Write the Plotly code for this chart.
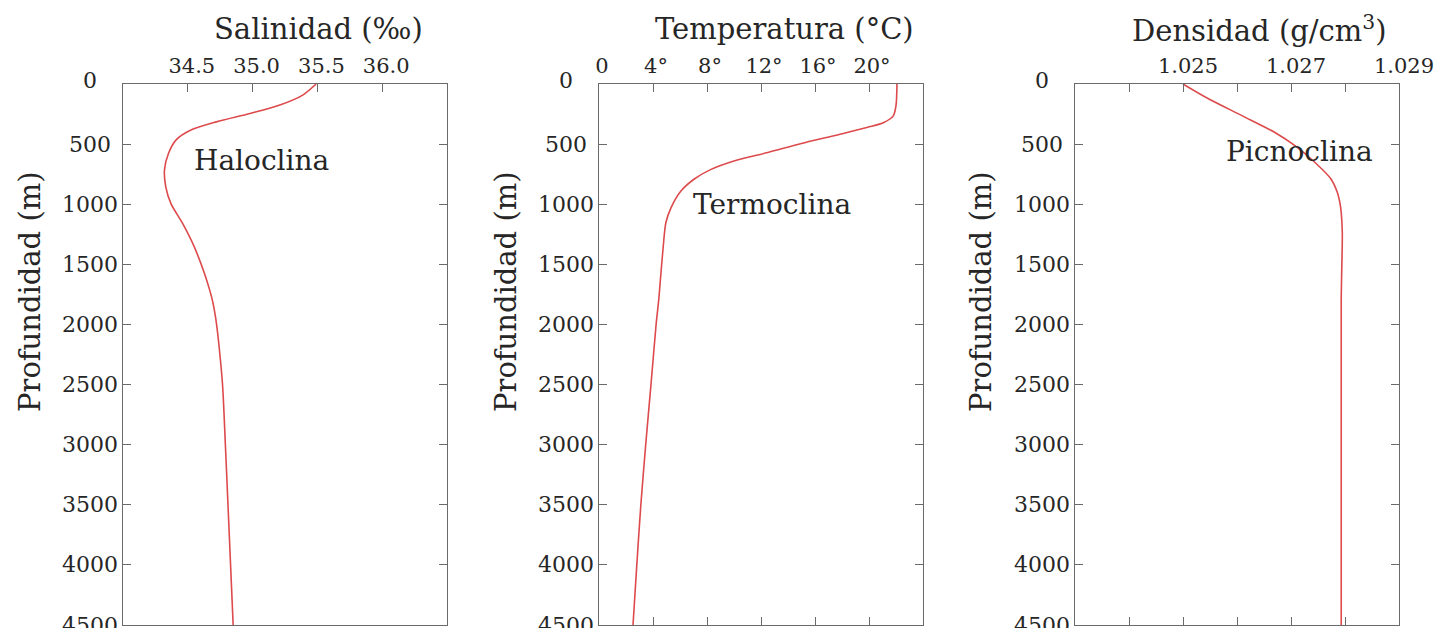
import plotly.graph_objects as go

# page body has an 8px margin: figure is sized to fit the 1444x636 viewport
OFF = 8
W, H = 1444 - 2 * OFF, 636 - 2 * OFF

# ---------------- data ----------------
sal_depth = [0, 90, 175, 245, 315, 385, 465, 580, 715, 855, 995, 1160, 1355, 1580, 1700, 1800, 1900, 2000, 2200, 2500, 3000, 3500, 4000, 4500]
salinity = [35.49, 35.39, 35.21, 34.98, 34.72, 34.52, 34.41, 34.35, 34.32, 34.33, 34.37, 34.46, 34.55, 34.63, 34.665, 34.69, 34.708, 34.722, 34.743, 34.768, 34.79, 34.81, 34.83, 34.85]

temp_depth = [0, 180, 265, 320, 360, 430, 495, 570, 640, 710, 790, 890, 1030, 1150, 1400, 1625, 1800, 2000, 2500, 3000, 3500, 4000, 4500]
temperature = [22.07, 22.0, 21.8, 21.1, 19.9, 17.4, 15.0, 12.5, 10.0, 8.3, 7.06, 6.07, 5.33, 4.96, 4.72, 4.55, 4.42, 4.23, 3.85, 3.46, 3.1, 2.8, 2.52]

dens_depth = [0, 125, 265, 405, 515, 655, 790, 905, 1000, 1070, 1235, 1800, 4500]
density = [1.0250, 1.02548, 1.02610, 1.02671, 1.02708, 1.02745, 1.02774, 1.02786, 1.02791, 1.02793, 1.02795, 1.02793, 1.02793]

depth_ticks = [0, 500, 1000, 1500, 2000, 2500, 3000, 3500, 4000, 4500]

sal_ticks = [34.5, 35.0, 35.5, 36.0]
sal_ticktext = ["34.5", "35.0", "35.5", "36.0"]
temp_ticks = [0, 4, 8, 12, 16, 20]
temp_ticktext = ["0", "4°", "8°", "12°", "16°", "20°"]
dens_ticks = [1.025, 1.027, 1.029]
dens_ticktext = ["1.025", "1.027", "1.029"]
dens_minor_ticks = [1.024, 1.026, 1.028]

titles = ["Salinidad (‰)", "Temperatura (°C)", "Densidad (g/cm<sup>3</sup>)"]
ytitle = "Profundidad (m)"
cline_labels = ["Haloclina", "Termoclina", "Picnoclina"]
cline_pos = [(35.07, 640), (12.8, 1000), (1.02715, 560)]

# ---------------- styling ----------------
FONT = "DejaVu Serif"
TXT = "#262626"
AX = "#6a6a6a"
RED = "#dd4a4c"


def px(x):
    return (x - OFF) / W


def py(y):
    return 1 - (y - OFF) / H


dom_px = [(123, 447), (599, 923), (1075, 1399)]
top_px, bot_px = 84, 625
ydom = [py(bot_px), py(top_px)]

fig = go.Figure()
series = [(salinity, sal_depth), (temperature, temp_depth), (density, dens_depth)]
for i, (xs, ds) in enumerate(series):
    fig.add_trace(go.Scatter(
        x=xs, y=ds, mode="lines",
        line=dict(color=RED, width=1.6, shape="spline", smoothing=0.8),
        xaxis="x" if i == 0 else f"x{i+1}",
        yaxis="y" if i == 0 else f"y{i+1}",
        showlegend=False, hoverinfo="skip",
    ))

xranges = [[34.0, 36.5], [0, 24], [1.023, 1.0290001]]
xtv = [sal_ticks, temp_ticks, dens_ticks]
xtt = [sal_ticktext, temp_ticktext, dens_ticktext]
xshift_lab = [4, 3, 5]
mirrors = [True, "ticks", "ticks"]

layout = dict(
    width=W, height=H, autosize=False, margin=dict(l=0, r=0, t=0, b=0, pad=0),
    paper_bgcolor="white", plot_bgcolor="white",
    font=dict(family=FONT, color=TXT, size=21),
)
annotations = []
for i in range(3):
    xa = "xaxis" if i == 0 else f"xaxis{i+1}"
    ya = "yaxis" if i == 0 else f"yaxis{i+1}"
    xr = "x" if i == 0 else f"x{i+1}"
    yr = "y" if i == 0 else f"y{i+1}"
    l, r = dom_px[i]
    xax = dict(
        domain=[px(l), px(r)], anchor=yr, side="top", automargin=False,
        range=xranges[i], tickmode="array", tickvals=xtv[i], ticktext=xtt[i],
        ticks="inside", ticklen=8, tickwidth=1, tickcolor=AX,
        showline=True, linecolor=AX, linewidth=1, mirror=mirrors[i],
        showgrid=False, zeroline=False,
        tickfont=dict(family=FONT, size=21, color=TXT),
        ticklabelshift=xshift_lab[i], ticklabelstandoff=2,
    )
    if i == 2:
        xax["minor"] = dict(tickmode="array", tickvals=dens_minor_ticks,
                            ticks="inside", ticklen=8, tickwidth=1,
                            tickcolor=AX, showgrid=False)
    layout[xa] = xax
    layout[ya] = dict(
        domain=ydom, anchor=xr, range=[4500, 0], automargin=False,
        tickvals=depth_ticks, showticklabels=False,
        ticks="inside", ticklen=8, tickwidth=1, tickcolor=AX,
        showline=True, linecolor=AX, linewidth=1, mirror="ticks",
        showgrid=False, zeroline=False,
    )
    # depth tick labels (centred, as in the reference)
    for d in depth_ticks:
        annotations.append(dict(
            x=px(l), xref="paper", y=d, yref=yr, text=str(d),
            showarrow=False, xanchor="center", yanchor="middle",
            xshift=-33, yshift=(3 if d == 0 else 0),
            font=dict(family=FONT, size=22, color=TXT),
        ))
    # panel titles
    tcx = [318, 785, 1259][i]
    annotations.append(dict(
        x=px(tcx), xref="paper", y=py(29), yref="paper", text=titles[i],
        showarrow=False, xanchor="center", yanchor="middle",
        font=dict(family=FONT, size=29, color=TXT),
    ))
    # y titles
    ycx = [30, 506, 981][i]
    annotations.append(dict(
        x=px(ycx), xref="paper", y=py(292), yref="paper", text=ytitle,
        showarrow=False, xanchor="center", yanchor="middle", textangle=-90,
        font=dict(family=FONT, size=29, color=TXT),
    ))
    # cline labels
    cx, cy = cline_pos[i]
    annotations.append(dict(
        x=cx, xref=xr, y=cy, yref=yr, text=cline_labels[i],
        showarrow=False, xanchor="center", yanchor="middle",
        font=dict(family=FONT, size=28, color=TXT),
    ))

layout["annotations"] = annotations
fig.update_layout(**layout)
fig.write_html("out.html")
